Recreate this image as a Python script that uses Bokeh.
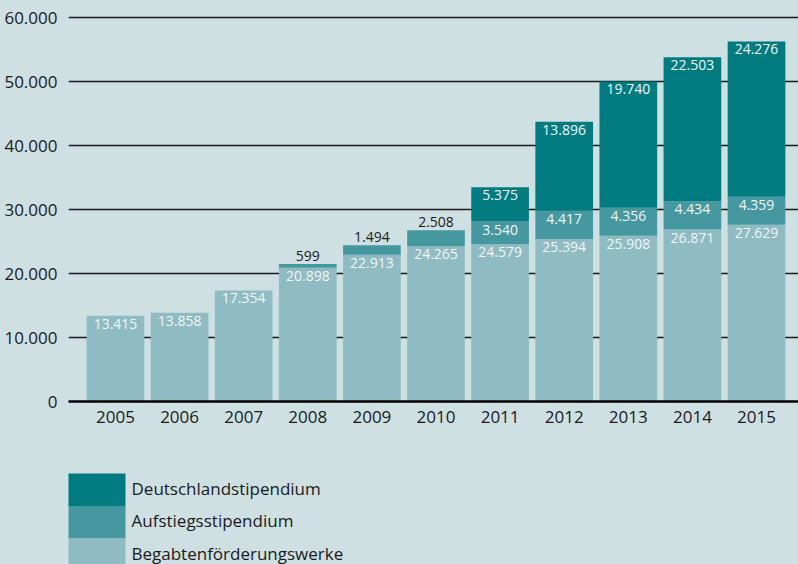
from bokeh.plotting import figure
from bokeh.models import ColumnDataSource, Range1d, FixedTicker, GlobalInlineStyleSheet
from bokeh.layouts import column
from bokeh.core.properties import value
from bokeh.embed import file_html
from bokeh.resources import INLINE

# ---- data ----
years = ["2005", "2006", "2007", "2008", "2009", "2010", "2011", "2012", "2013", "2014", "2015"]
begabten = [13415, 13858, 17354, 20898, 22913, 24265, 24579, 25394, 25908, 26871, 27629]
aufstieg = [0, 0, 0, 599, 1494, 2508, 3540, 4417, 4356, 4434, 4359]
deutschland = [0, 0, 0, 0, 0, 0, 5375, 13896, 19740, 22503, 24276]
series_names = ["Begabtenförderungswerke", "Aufstiegsstipendium", "Deutschlandstipendium"]
y_ticks = [0, 10000, 20000, 30000, 40000, 50000, 60000]
y_tick_labels = ["0", "10.000", "20.000", "30.000", "40.000", "50.000", "60.000"]

# ---- style ----
BG = "#cfe0e2"
COLORS = ["#8fbbc2", "#45989f", "#007b80"]
FONT = "Open Sans"
DARK = "#1a1a1a"


def fmt(v):
    return f"{v:,}".replace(",", ".")


x = list(range(len(years)))
src = ColumnDataSource(dict(x=x, b=begabten, a=aufstieg, d=deutschland))

p = figure(width=798, height=440, x_range=Range1d(-0.733, 10.655), y_range=Range1d(0, 61094),
           output_backend="svg", toolbar_location=None,
           min_border_left=68, min_border_right=0, min_border_top=10, min_border_bottom=39)
p.background_fill_color = BG
p.border_fill_color = BG
p.outline_line_color = None

p.vbar_stack(["b", "a", "d"], x="x", width=0.9, fill_color=COLORS, line_color=None, source=src)

# labels
in_x, in_y, in_t = [], [], []
out_x, out_y, out_t = [], [], []
for i in range(len(years)):
    b, a, d = begabten[i], aufstieg[i], deutschland[i]
    in_x.append(i); in_y.append(b); in_t.append(fmt(b))
    if a >= 3000:
        in_x.append(i); in_y.append(b + a); in_t.append(fmt(a))
    elif a > 0:
        out_x.append(i); out_y.append(b + a); out_t.append(fmt(a))
    if d > 0:
        in_x.append(i); in_y.append(b + a + d); in_t.append(fmt(d))

p.text(x=in_x, y=in_y, text=in_t, text_align="center", text_baseline="top", y_offset=3,
       text_color="#f2f6f6", text_font=value(FONT), text_font_size="14px")
p.text(x=out_x, y=out_y, text=out_t, text_align="center", text_baseline="bottom", y_offset=-3,
       text_color=DARK, text_font=value(FONT), text_font_size="14px")

# axes
p.yaxis.ticker = FixedTicker(ticks=y_ticks)
p.yaxis.major_label_overrides = {t: l for t, l in zip(y_ticks, y_tick_labels)}
p.yaxis.axis_line_color = None
p.yaxis.major_tick_line_color = None
p.yaxis.minor_tick_line_color = None
p.yaxis.major_label_standoff = 5
p.yaxis.major_label_text_font = FONT
p.yaxis.major_label_text_font_size = "17px"
p.yaxis.major_label_text_color = DARK

p.xaxis.ticker = FixedTicker(ticks=x)
p.xaxis.major_label_overrides = {i: y for i, y in zip(x, years)}
p.xaxis.axis_line_color = "black"
p.xaxis.axis_line_width = 2.5
p.xaxis.major_tick_line_color = None
p.xaxis.minor_tick_line_color = None
p.xaxis.major_label_standoff = 3
p.xaxis.major_label_text_font = FONT
p.xaxis.major_label_text_font_size = "17px"
p.xaxis.major_label_text_color = DARK

p.xgrid.grid_line_color = None
p.ygrid.ticker = FixedTicker(ticks=y_ticks)
p.ygrid.grid_line_color = DARK
p.ygrid.grid_line_width = 1.5

# ---- legend figure (frame is aligned with the chart's frame) ----
leg = figure(width=798, height=124, x_range=Range1d(68, 798), y_range=Range1d(124, 0),
             x_axis_location=None, y_axis_location=None,
             output_backend="svg", toolbar_location=None,
             min_border_left=68, min_border_right=0, min_border_top=0, min_border_bottom=0)
leg.background_fill_color = BG
leg.border_fill_color = BG
leg.outline_line_color = None
leg.grid.visible = False

leg_names = series_names[::-1]
leg_colors = COLORS[::-1]
sw_top = [33, 65.5, 98]
sw_bot = [65.5, 98, 131]
leg.quad(left=67, right=125, top=sw_top, bottom=sw_bot, fill_color=leg_colors, line_color=None)
leg.text(x=131, y=[(t + b) / 2 - 1.5 for t, b in zip(sw_top, sw_bot)], text=leg_names,
         text_align="left", text_baseline="middle", text_color=DARK,
         text_font=value(FONT), text_font_size="17px")

layout = column(p, leg, spacing=0)
layout.stylesheets = [GlobalInlineStyleSheet(css="body { background-color: #cfe0e2; }")]

open("out.html", "w").write(file_html(layout, INLINE))
